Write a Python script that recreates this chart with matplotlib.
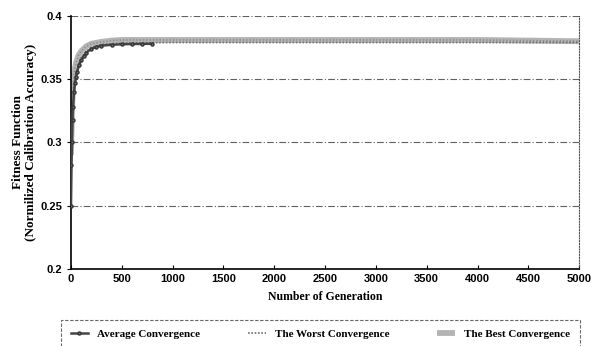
import numpy as np
import matplotlib.pyplot as plt
from matplotlib.ticker import FuncFormatter

# --- DATA ---
avg_gen = [0, 5, 10, 15, 20, 30, 40, 50, 60, 80, 100, 125, 150, 200, 250, 300,
           400, 500, 600, 700, 800]
avg_fit = [0.250, 0.282, 0.300, 0.318, 0.328, 0.340, 0.347, 0.352, 0.356, 0.361,
           0.365, 0.368, 0.371, 0.374, 0.3755, 0.3765, 0.3772, 0.3776, 0.3778,
           0.3779, 0.3780]

worst_gen = [0, 10, 20, 30, 50, 75, 100, 150, 200, 300, 500, 1000, 1500, 2000,
             2500, 3000, 3500, 4000, 4500, 5000]
worst_fit = [0.262, 0.305, 0.330, 0.342, 0.353, 0.362, 0.367, 0.372, 0.375,
             0.3775, 0.3785, 0.3790, 0.3790, 0.3790, 0.3790, 0.3790, 0.3790,
             0.3790, 0.3790, 0.3790]

best_gen = [0, 10, 20, 30, 50, 75, 100, 150, 200, 300, 400, 500, 1000, 1500,
            2000, 2500, 3000, 3500, 4000, 4500, 5000]
best_fit = [0.290, 0.325, 0.345, 0.355, 0.363, 0.369, 0.372, 0.376, 0.378,
            0.3795, 0.3805, 0.381, 0.381, 0.381, 0.381, 0.381, 0.381, 0.381,
            0.381, 0.3805, 0.380]

y_ticks = [0.2, 0.25, 0.3, 0.35, 0.4]
x_ticks = [0, 500, 1000, 1500, 2000, 2500, 3000, 3500, 4000, 4500, 5000]

serif = 'Liberation Serif'
sans = 'Liberation Sans'

fig = plt.figure(figsize=(5.94, 3.46), dpi=100)
ax = fig.add_axes([0.1195, 0.2225, 0.8555, 0.7315])

# best convergence: light, wide, speckled band
ax.plot(best_gen, best_fit, color='#b4b4b4', lw=4.2, solid_capstyle='butt',
        zorder=2, label='The Best Convergence')
ax.plot(best_gen, best_fit, color='#8c8c8c', lw=1.2, ls=(0, (0.8, 1.2)), zorder=2)
# worst convergence: mid gray dotted
ax.plot(worst_gen, worst_fit, color='#6e6e6e', lw=1.2, ls=(0, (1, 1)),
        zorder=3, label='The Worst Convergence')
# average convergence: dark, only early generations shown
ax.plot(avg_gen, avg_fit, color='#454545', lw=1.8, marker='o', ms=2.2,
        mec='#353535', mfc='#707070', zorder=4, label='Average Convergence')

ax.set_xlim(0, 5000)
ax.set_ylim(0.2, 0.4)
ax.set_yticks(y_ticks)
ax.set_xticks(x_ticks)
ax.yaxis.set_major_formatter(FuncFormatter(lambda v, p: ('%.2f' % v).rstrip('0')))

for y in y_ticks[1:]:
    ax.axhline(y, color='#606060', lw=0.8, ls=(0, (6, 2, 1, 2)), zorder=1)

ax.spines['top'].set_visible(False)
ax.spines['right'].set_linestyle((0, (1, 1.5)))
ax.spines['right'].set_color('#505050')
ax.spines['right'].set_linewidth(0.8)
ax.spines['left'].set_linewidth(1.2)
ax.spines['bottom'].set_linewidth(1.2)

ax.tick_params(axis='both', labelsize=8, length=3, width=0.8, direction='in')
ax.tick_params(axis='y', direction='out', length=3)
for lab in ax.get_xticklabels() + ax.get_yticklabels():
    lab.set_fontfamily(sans)
    lab.set_fontweight('bold')

ax.set_xlabel('Number of Generation', fontfamily=serif, fontweight='bold',
              fontsize=8.5, labelpad=5)
ax.set_ylabel('Fitness Function\n(Normilized Calibration Accuracy)',
              fontfamily=serif, fontweight='bold', fontsize=9.5, labelpad=2)

# legend in a box below the axes, order as in the figure
h, l = ax.get_legend_handles_labels()
order = [2, 1, 0]
leg = fig.legend([h[i] for i in order], [l[i] for i in order], ncol=3,
                 loc='upper left', bbox_to_anchor=(55 / 594, 1 - 314 / 346),
                 bbox_transform=fig.transFigure, frameon=True,
                 prop={'family': serif, 'weight': 'bold', 'size': 8},
                 handlelength=1.6, columnspacing=4.3, borderpad=0.9,
                 fancybox=False, edgecolor='#404040')
leg.get_frame().set_linestyle((0, (3, 1.5)))
leg.get_frame().set_linewidth(0.8)

fig.savefig('out.png', dpi=100)
